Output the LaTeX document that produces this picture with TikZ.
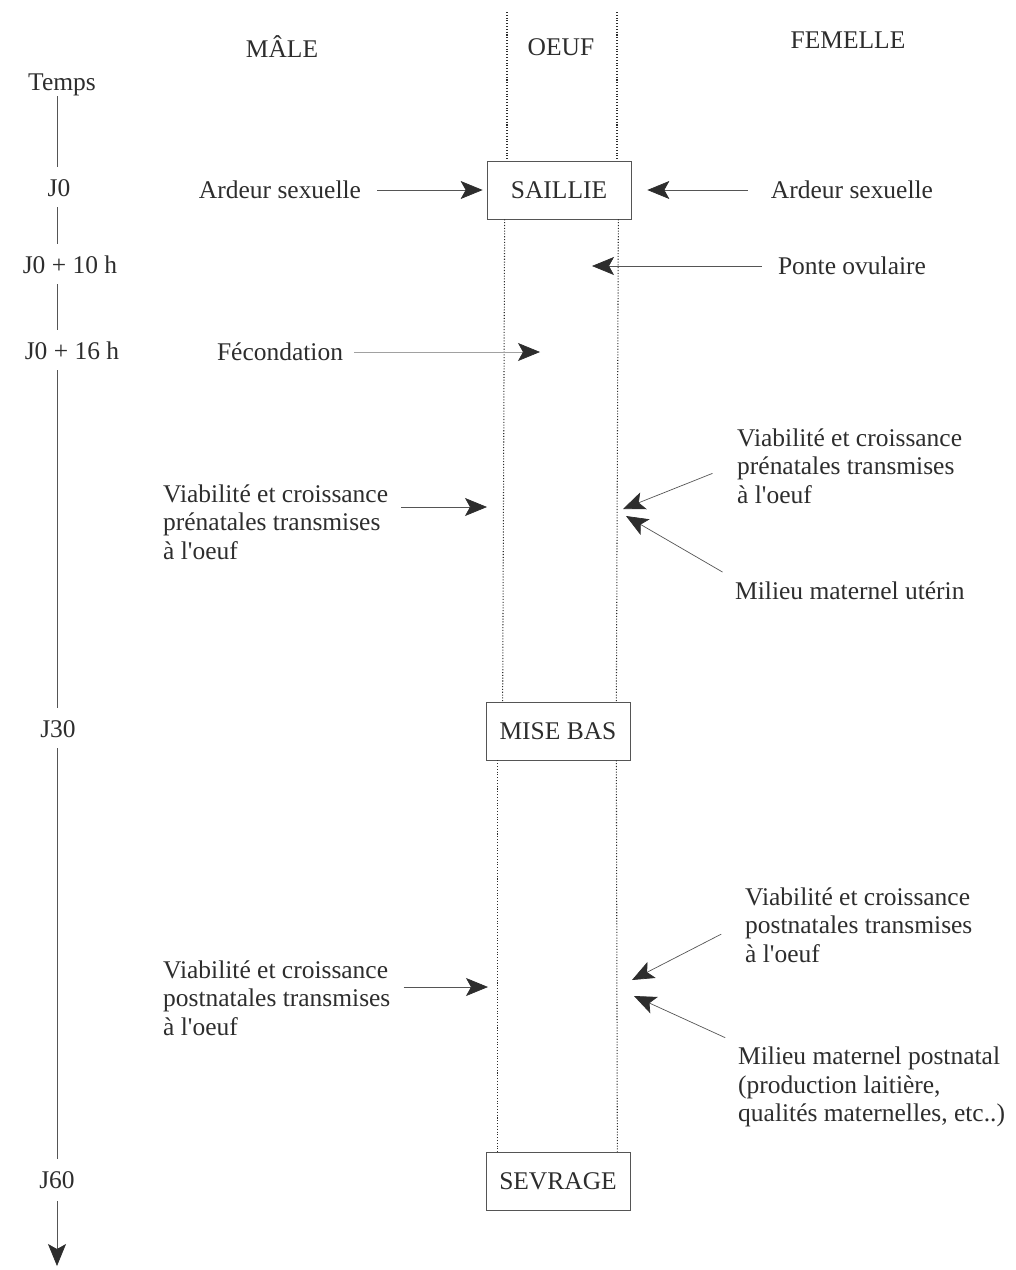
\documentclass[tikz,border=0pt]{standalone}
\usepackage{fontspec}
\setmainfont{Liberation Serif}
\usepackage{tikz}
\usetikzlibrary{arrows.meta, calc}
\definecolor{ink}{RGB}{45,45,45}
\definecolor{trait}{RGB}{85,85,85}

\begin{document}
\begin{tikzpicture}[
            x=0.2mm, y=-0.2mm,
            every node/.style={font=\fontsize{14.5}{16.2}\selectfont, text=ink},
            etape/.style={rectangle, draw=trait, minimum width=28.8mm, minimum height=11.6mm},
            bloc/.style={align=left, anchor=west},
            jour/.style={inner sep=0pt, text height=1.7ex, text depth=0pt},
            axe/.style={draw=trait, shorten <=2mm, shorten >=3.2mm},
            fleche/.style={-{Stealth[length=4.4mm, width=3.6mm, inset=1mm, color=ink]}, draw=trait},
            guide/.style={draw=ink, line width=0.6pt, densely dotted}
        ]
            \useasboundingbox (0,0) rectangle (1016,1270);

            \node (male) at (282,47) {MÂLE};
            \node (oeuf) at (561,47) {OEUF};
            \node (femelle) at (848,40) {FEMELLE};

            \node[etape] (saillie) at (559,190) {SAILLIE};
            \node[etape] (misebas) at (558,731) {MISE BAS};
            \node[etape] (sevrage) at (558,1181) {SEVRAGE};

            \coordinate (hautG) at (507,12);
            \coordinate (hautD) at (617,12);
            \draw[guide] (hautG) -- (hautG |- saillie.north);
            \draw[guide] (hautD) -- (hautD |- saillie.north);
            \draw[guide] ($(saillie.south west)+(18,0)$) -- ($(misebas.north west)+(17,0)$);
            \draw[guide] ($(saillie.south east)+(-13,0)$) -- ($(misebas.north east)+(-14,0)$);
            \draw[guide] ($(misebas.south west)+(12,0)$) -- ($(sevrage.north west)+(12,0)$);
            \draw[guide] ($(misebas.south east)+(-14,0)$) -- ($(sevrage.north east)+(-13,0)$);

            \coordinate (axe) at (57,0);
            \node[jour] (temps) at (62,84) {Temps};
            \node[jour] (j0) at (59,190) {J0};
            \node[jour] (j10) at (70,267) {J0 + 10 h};
            \node[jour] (j16) at (72,353) {J0 + 16 h};
            \node[jour] (j30) at (58,731) {J30};
            \node[jour] (j60) at (57,1182) {J60};
            \coordinate (fin) at (57,1266);

            \draw[axe, shorten <=1mm] (temps.south -| axe) -- (j0.north -| axe);
            \draw[axe] (j0.south -| axe) -- (j10.north -| axe);
            \draw[axe] (j10.south -| axe) -- (j16.north -| axe);
            \draw[axe] (j16.south -| axe) -- (j30.north -| axe);
            \draw[axe] (j30.south -| axe) -- (j60.north -| axe);
            \draw[fleche, shorten <=2.4mm] (j60.south -| axe) -- (fin);

            \node (mArdeur) at (280,190) {Ardeur sexuelle};
            \node (fArdeur) at (852,190) {Ardeur sexuelle};
            \draw[fleche, shorten <=2mm, shorten >=0.8mm] (mArdeur) -- (saillie);
            \draw[fleche, shorten <=3.4mm, shorten >=3.2mm] (fArdeur) -- (saillie);

            \node (ponte) at (852,266) {Ponte ovulaire};
            \coordinate (ponteOeuf) at (592,266);
            \draw[fleche, shorten <=2mm] (ponte) -- (ponteOeuf);

            \node (fecond) at (280,352) {Fécondation};
            \coordinate (fecondOeuf) at (540,352);
            \draw[fleche, draw=trait!55, shorten <=1mm] (fecond) -- (fecondOeuf);

            \node[bloc] (mPre) at (157,522) {Viabilité et croissance\\prénatales transmises\\à l\textquotesingle oeuf};
            \coordinate (mPreOeuf) at (487,507);
            \draw[fleche, shorten <=1.4mm] (mPre.east |- mPreOeuf) -- (mPreOeuf);

            \node[bloc] (fPre) at (731,466) {Viabilité et croissance\\prénatales transmises\\à l\textquotesingle oeuf};
            \coordinate (fPreOeuf) at (623,509);
            \draw[fleche, shorten <=4mm] (fPre.west) -- (fPreOeuf);

            \node[bloc] (fUter) at (729,591) {Milieu maternel utérin};
            \coordinate (fUterOeuf) at (626,516);
            \draw[fleche, shorten <=1.5mm] (fUter.north west) -- (fUterOeuf);

            \node[bloc] (mPost) at (157,998) {Viabilité et croissance\\postnatales transmises\\à l\textquotesingle oeuf};
            \coordinate (mPostOeuf) at (488,987);
            \draw[fleche, shorten <=1.4mm] (mPost.east |- mPostOeuf) -- (mPostOeuf);

            \node[bloc] (fPost) at (739,925) {Viabilité et croissance\\postnatales transmises\\à l\textquotesingle oeuf};
            \coordinate (fPostOeuf) at (632,980);
            \draw[fleche, shorten <=4mm] (fPost.west) -- (fPostOeuf);

            \node[bloc] (fMilieu) at (732,1087) {Milieu maternel postnatal\\(production laitière,\\qualités maternelles, etc..)};
            \coordinate (fMilieuOeuf) at (634,996);
            \draw[fleche, shorten <=1.5mm] (fMilieu.north west) -- (fMilieuOeuf);
        \end{tikzpicture}
\end{document}
